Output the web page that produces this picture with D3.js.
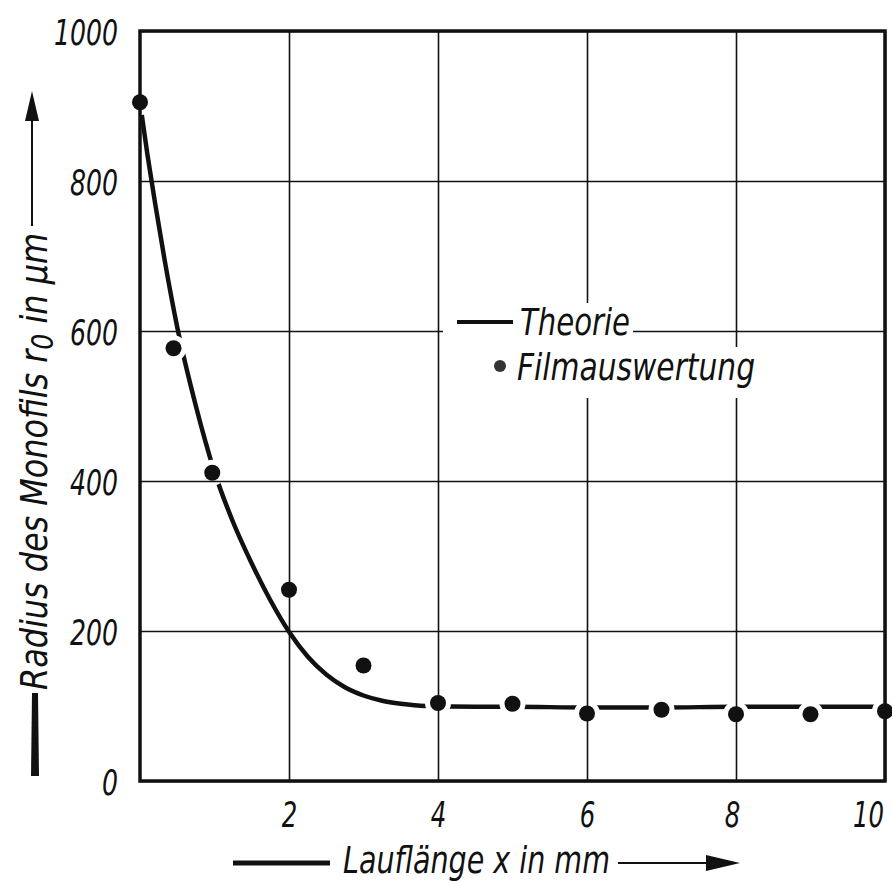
<!DOCTYPE html>
<html>
<head>
<meta charset="utf-8">
<style>
body { margin: 0; background: #fff; }
text { font-family: "Liberation Sans Narrow", "DejaVu Sans Condensed", "Liberation Sans", sans-serif; font-style: italic; fill: #111; }
</style>
</head>
<body>
<script src="https://d3js.org/d3.v7.min.js"></script>
<script>
// theory curve
var theoryX = [0, 0.1, 0.2, 0.33, 0.5, 0.75, 1, 1.25, 1.5, 1.75, 2, 2.25, 2.5, 2.75, 3, 3.25, 3.5, 3.84, 4.5, 5, 6, 7, 8, 9, 10];
var theoryY = [905, 835, 772, 695, 605, 500, 412, 345, 290, 241, 199, 166, 142, 125, 114, 107, 103, 100, 99, 99, 98, 98, 99, 99, 99];

// film evaluation points
var filmX = [0, 0.45, 0.97, 2, 3, 4, 5, 6, 7, 8, 9, 10];
var filmY = [905, 577, 411, 255, 154, 104, 103, 90, 95, 89, 89, 93];

var xTicks = [2, 4, 6, 8, 10];
var yTicks = [0, 200, 400, 600, 800, 1000];

var W = 892, H = 883;
var pL = 140, pR = 885, pT = 31, pB = 781;

var svg = d3.select("body").append("svg")
  .attr("width", W)
  .attr("height", H);

svg.append("rect").attr("width", W).attr("height", H).attr("fill", "#fff");

var x = d3.scaleLinear().domain([0, 10]).range([pL, pR]);
var y = d3.scaleLinear().domain([0, 1000]).range([pB, pT]);

var theory = theoryX.map(function(d, i) { return [d, theoryY[i]]; });
var film = filmX.map(function(d, i) { return [d, filmY[i]]; });

var line = d3.line()
  .x(function(d) { return x(d[0]); })
  .y(function(d) { return y(d[1]); })
  .curve(d3.curveMonotoneX);

// theory line
svg.append("path")
  .attr("d", line(theory))
  .attr("fill", "none")
  .attr("stroke", "#111")
  .attr("stroke-width", 4.5)
  .attr("stroke-linecap", "butt");

// white halo round the points (breaks the line)
svg.selectAll(".halo").data(film).enter().append("circle")
  .attr("class", "halo")
  .attr("cx", function(d) { return x(d[0]); })
  .attr("cy", function(d) { return y(d[1]); })
  .attr("r", 13)
  .attr("fill", "#fff");

// grid
svg.append("g")
  .attr("transform", "translate(0," + pB + ")")
  .call(d3.axisBottom(x).tickValues(xTicks).tickSize(-(pB - pT)).tickFormat(""))
  .call(function(g) { g.select(".domain").remove(); })
  .selectAll("line").attr("stroke", "#111").attr("stroke-width", 1.6);

svg.append("g")
  .attr("transform", "translate(" + pL + ",0)")
  .call(d3.axisLeft(y).tickValues(yTicks).tickSize(-(pR - pL)).tickFormat(""))
  .call(function(g) { g.select(".domain").remove(); })
  .selectAll("line").attr("stroke", "#111").attr("stroke-width", 1.6);

// frame
svg.append("path")
  .attr("d", "M" + pL + "," + pB + "H" + pR + "V" + pT + "H" + pL + "Z")
  .attr("fill", "none")
  .attr("stroke", "#111")
  .attr("stroke-width", 3.5);

// points
svg.selectAll(".pt").data(film).enter().append("circle")
  .attr("class", "pt")
  .attr("cx", function(d) { return x(d[0]); })
  .attr("cy", function(d) { return y(d[1]); })
  .attr("r", 8)
  .attr("fill", "#111");

// tick labels
svg.append("g")
  .attr("class", "ylab")
  .attr("transform", "translate(" + pL + ",0)")
  .call(d3.axisLeft(y).tickValues(yTicks).tickSize(0).tickPadding(22).tickFormat(d3.format("d")))
  .call(function(g) { g.select(".domain").remove(); })
  .selectAll("text")
  .attr("font-size", 36)
  .attr("dy", 13)
  .attr("textLength", function(d) { return String(d).length * 16; })
  .attr("lengthAdjust", "spacingAndGlyphs");

svg.append("g")
  .attr("class", "xlab")
  .attr("transform", "translate(0," + pB + ")")
  .call(d3.axisBottom(x).tickValues(xTicks).tickSize(0).tickPadding(0).tickFormat(d3.format("d")))
  .call(function(g) { g.select(".domain").remove(); })
  .selectAll("text")
  .attr("font-size", 36)
  .attr("y", 46)
  .attr("dy", 0)
  .attr("dx", function(d) { return d === 10 ? -17 : (d === 8 ? -4 : 0); })
  .attr("textLength", function(d) { return String(d).length * 15.5; })
  .attr("lengthAdjust", "spacingAndGlyphs");

svg.selectAll(".ylab, .xlab").attr("font-family", null).attr("font-size", null);

// legend
svg.append("rect").attr("x", 443).attr("y", 303).attr("width", 190).attr("height", 44).attr("fill", "#fff");
svg.append("rect").attr("x", 488).attr("y", 347).attr("width", 274).attr("height", 51).attr("fill", "#fff");

svg.append("line")
  .attr("x1", 457).attr("x2", 513).attr("y1", 322).attr("y2", 322)
  .attr("stroke", "#111").attr("stroke-width", 4);
svg.append("text")
  .attr("x", 520).attr("y", 335)
  .attr("font-size", 38)
  .attr("textLength", 110).attr("lengthAdjust", "spacingAndGlyphs")
  .text("Theorie");

svg.append("circle").attr("cx", 500).attr("cy", 366).attr("r", 6).attr("fill", "#333");
svg.append("text")
  .attr("x", 517).attr("y", 380)
  .attr("font-size", 38)
  .attr("textLength", 238).attr("lengthAdjust", "spacingAndGlyphs")
  .text("Filmauswertung");

// x axis title
svg.append("line").attr("x1", 233).attr("x2", 330).attr("y1", 863).attr("y2", 863)
  .attr("stroke", "#111").attr("stroke-width", 5);
svg.append("text")
  .attr("x", 343).attr("y", 873)
  .attr("font-size", 38)
  .attr("textLength", 267).attr("lengthAdjust", "spacingAndGlyphs")
  .text("Lauflänge x in mm");
svg.append("line").attr("x1", 618).attr("x2", 712).attr("y1", 863).attr("y2", 863)
  .attr("stroke", "#111").attr("stroke-width", 2);
svg.append("path").attr("d", "M706,855L740,863L706,871Z").attr("fill", "#111");

// y axis title
svg.append("path").attr("d", "M32,693L38,693L39,776L31,776Z").attr("fill", "#111");
var yt = svg.append("text")
  .attr("transform", "translate(47,690) rotate(-90)")
  .attr("font-size", 38)
  .attr("textLength", 457).attr("lengthAdjust", "spacingAndGlyphs");
yt.append("tspan").text("Radius des Monofils r");
yt.append("tspan").attr("dy", 6).attr("font-size", 30).text("0");
yt.append("tspan").attr("dy", -6).text(" in µm");
svg.append("line").attr("x1", 32).attr("x2", 32).attr("y1", 226).attr("y2", 110)
  .attr("stroke", "#111").attr("stroke-width", 2);
svg.append("path").attr("d", "M25,121L32,91L39,121Z").attr("fill", "#111");
</script>
</body>
</html>
